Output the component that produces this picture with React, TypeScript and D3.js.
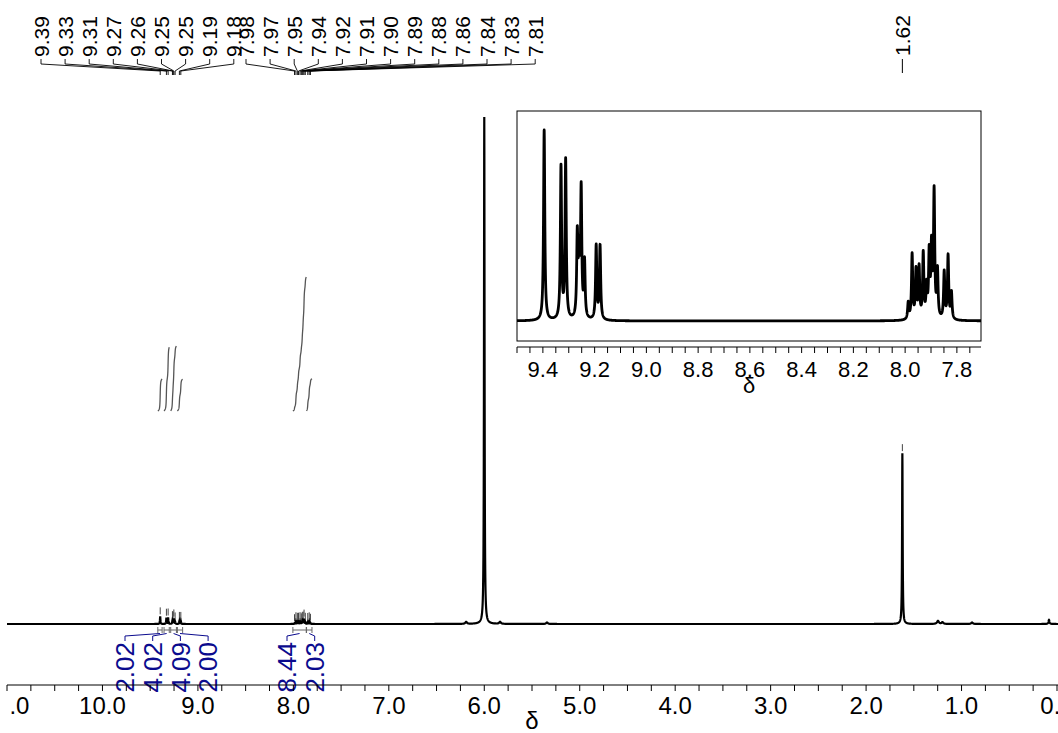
import React from "react";
import * as d3 from "d3";

const W = 1058;
const H = 733;

// Picked aromatic peaks (ppm as drawn, intensity with solvent peak = 100)
const aroPpm = [9.395, 9.33, 9.312, 9.267, 9.26, 9.252, 9.239, 9.194, 9.179,
  7.988, 7.973, 7.958, 7.946, 7.93, 7.917, 7.907, 7.898, 7.888, 7.875, 7.849, 7.834, 7.821];
const aroInt = [1.5, 1.2, 1.25, 0.64, 0.46, 1.0, 0.44, 0.58, 0.58,
  0.13, 0.51, 0.38, 0.4, 0.51, 0.24, 0.5, 0.54, 0.99, 0.37, 0.37, 0.5, 0.21];
const aroLabels1 = ["9.39", "9.33", "9.31", "9.27", "9.26", "9.25", "9.25", "9.19", "9.18"];
const aroLabels2 = ["7.98", "7.97", "7.95", "7.94", "7.92", "7.91", "7.90", "7.89", "7.88", "7.86", "7.84", "7.83", "7.81"];
const aroWidth = 0.0028;

// Other signals
const otherPpm = [6.0, 1.62, 6.19, 5.835, 5.343, 1.247, 1.2, 0.89, 0.084];
const otherInt = [100, 33.7, 0.4, 0.4, 0.3, 0.6, 0.35, 0.3, 0.8];
const otherWidth = [0.0035, 0.0035, 0.01, 0.01, 0.01, 0.012, 0.01, 0.01, 0.006];
const singleLabelPpm = 1.62;
const singleLabel = "1.62";

// Integrations
const intStart = [9.42, 9.355, 9.285, 9.215, 8.005, 7.862];
const intEnd = [9.375, 9.3, 9.225, 9.16, 7.865, 7.805];
const intValues = [2.02, 4.02, 4.09, 2.0, 8.44, 2.03];
const intLabels = ["2.02", "4.02", "4.09", "2.00", "8.44", "2.03"];

// Axis ticks
const mainTickLabels = [11, 10, 9, 8, 7, 6, 5, 4, 3, 2, 1, 0];
const insetTickLabels = [9.4, 9.2, 9.0, 8.8, 8.6, 8.4, 8.2, 8.0, 7.8];

const FONT = "'Liberation Sans', Arial, Helvetica, sans-serif";
const BLUE = "#0b0b8e";

function spec(p: number): number {
  let s = 0;
  for (let i = 0; i < aroPpm.length; i++) {
    const d = (p - aroPpm[i]) / aroWidth;
    s += aroInt[i] / (1 + d * d);
  }
  for (let i = 0; i < otherPpm.length; i++) {
    const d = (p - otherPpm[i]) / otherWidth[i];
    s += otherInt[i] / (1 + d * d);
  }
  return s;
}

function grid(a: number, b: number, step: number): number[] {
  const g = d3.range(a, b, -step);
  aroPpm.concat(otherPpm).forEach((p) => {
    if (p <= a && p >= b) g.push(p);
  });
  return g.sort((x, y) => y - x);
}

export default function App() {
  const xMain = d3.scaleLinear().domain([11, 0]).range([7, 1057]);
  const yMain = d3.scaleLinear().domain([0, 100]).range([624, 117]);

  const mainPts = grid(11.0, -0.012, 0.001);
  const mainLine = d3
    .line<number>()
    .x((p) => xMain(p))
    .y((p) => yMain(spec(p)))(mainPts) as string;

  // inset
  const ix0 = 517, ix1 = 981, iy0 = 111, iy1 = 341;
  const xIn = d3.scaleLinear().domain([9.5, 9.5 - (ix1 - ix0) / 258.75]).range([ix0, ix1]);
  const inPts = grid(9.5, 7.7, 0.0004);
  const inMax = d3.max(inPts, (p) => spec(p)) as number;
  const yIn = d3.scaleLinear().domain([0, inMax]).range([321, 130]);
  const inLine = d3
    .line<number>()
    .x((p) => xIn(p))
    .y((p) => yIn(spec(p)))(inPts) as string;
  const inTicks = d3.range(0, 37).map((i) => 9.5 - i * 0.05).filter((v) => v >= xIn.domain()[1] - 1e-9);

  // integral curves
  const yInt = d3.scaleLinear().domain([0, 8.44]).range([411, 277]);
  const intCurves = intStart.map((s, k) => {
    const e = intEnd[k];
    const pts = d3.range(s, e - 1e-9, -0.0005);
    let c = 0;
    const cum = pts.map((p) => (c += spec(p)));
    const tot = cum[cum.length - 1];
    const line = d3
      .line<number>()
      .x((_, i) => xMain(pts[i]))
      .y((_, i) => yInt((cum[i] / tot) * intValues[k]))(pts) as string;
    return line;
  });

  const mainTicks = d3.range(0, 45).map((i) => 11 - i * 0.25);

  // label layout
  const labelSpacing = 24.1;
  const lab1x = aroLabels1.map((_, i) => 41 + i * labelSpacing);
  const lab2x = aroLabels2.map((_, i) => 246 + i * labelSpacing);
  const labs = [
    ...aroLabels1.map((t, i) => ({ t, lx: lab1x[i], p: aroPpm[i] })),
    ...aroLabels2.map((t, i) => ({ t, lx: lab2x[i], p: aroPpm[i + aroLabels1.length] })),
  ];

  const intLabelX = intLabels.map((_, i) => (i < 4 ? 125 + i * 27.7 : 287 + (i - 4) * 27.7));

  const markerPpm = [...aroPpm, singleLabelPpm];

  return (
    <svg
      width={W}
      height={H}
      style={{ position: "absolute", left: 0, top: 0, background: "#fff" }}
      fontFamily={FONT}
    >
      <defs>
        <clipPath id="axclip">
          <rect x={9} y={0} width={W - 9} height={H} />
        </clipPath>
        <clipPath id="inclip">
          <rect x={ix0} y={iy0} width={ix1 - ix0} height={iy1 - iy0} />
        </clipPath>
        <clipPath id="mainclip">
          <rect x={7} y={0} width={W - 7} height={H} />
        </clipPath>
      </defs>
      <rect x={0} y={0} width={W} height={H} fill="#fff" />

      {/* peak labels */}
      {labs.map((l, i) => (
        <g key={"pl" + i}>
          <text
            transform={`translate(${l.lx},57) rotate(-90)`}
            textAnchor="start"
            dy="0.36em"
            fontSize={21}
            fill="#000"
          >
            {l.t}
          </text>
          <path
            d={`M${l.lx},59 L${l.lx},64 L${xMain(l.p)},71 L${xMain(l.p)},75`}
            fill="none"
            stroke="#000"
            strokeWidth={0.9}
          />
        </g>
      ))}
      <text
        transform={`translate(${xMain(singleLabelPpm)},56) rotate(-90)`}
        textAnchor="start"
        dy="0.36em"
        fontSize={21}
        fill="#000"
      >
        {singleLabel}
      </text>
      <line
        x1={xMain(singleLabelPpm)}
        x2={xMain(singleLabelPpm)}
        y1={59}
        y2={73}
        stroke="#000"
        strokeWidth={1}
      />

      {/* integral curves */}
      {intCurves.map((d, i) => (
        <path key={"ic" + i} d={d} fill="none" stroke="#555" strokeWidth={1.3} />
      ))}

      {/* peak markers */}
      {markerPpm.map((p, i) => {
        const yt = yMain(spec(p));
        return (
          <line
            key={"mk" + i}
            x1={xMain(p)}
            x2={xMain(p)}
            y1={yt - 2}
            y2={yt - 9}
            stroke="#444"
            strokeWidth={1}
          />
        );
      })}

      {/* main spectrum */}
      <path d={mainLine} fill="none" stroke="#000" strokeWidth={2.2} clipPath="url(#mainclip)" />

      {/* integration brackets */}
      {intStart.map((s, i) => {
        const xs = xMain(s);
        const xe = xMain(intEnd[i]);
        const xc = (xs + xe) / 2;
        const lx = intLabelX[i];
        return (
          <g key={"ib" + i}>
            <path
              d={`M${xs},627 L${xs},633 M${xe},627 L${xe},633 M${xs},630 L${xe},630`}
              fill="none"
              stroke="#666"
              strokeWidth={1}
            />
            <path
              d={`M${lx},641 L${lx},636 L${xc},633.5`}
              fill="none"
              stroke={BLUE}
              strokeWidth={1}
            />
            <text
              transform={`translate(${lx},642) rotate(-90)`}
              textAnchor="end"
              dy="0.36em"
              fontSize={26}
              fill={BLUE}
            >
              {intLabels[i]}
            </text>
          </g>
        );
      })}

      {/* main axis */}
      <line x1={7} x2={W} y1={685} y2={685} stroke="#000" strokeWidth={1} />
      {mainTicks.map((t, i) => (
        <line key={"mt" + i} x1={xMain(t)} x2={xMain(t)} y1={685} y2={691} stroke="#000" strokeWidth={1} />
      ))}
      <g clipPath="url(#axclip)">
        {mainTickLabels.map((t, i) => (
          <text key={"ml" + i} x={xMain(t)} y={714} textAnchor="middle" fontSize={24} fill="#000">
            {t.toFixed(1)}
          </text>
        ))}
      </g>
      <text x={(xMain(11) + xMain(0)) / 2} y={729} textAnchor="middle" fontSize={24} fill="#000">
        δ
      </text>

      {/* inset */}
      <rect x={ix0} y={iy0} width={ix1 - ix0} height={iy1 - iy0} fill="#fff" stroke="#000" strokeWidth={1} />
      <path d={inLine} fill="none" stroke="#000" strokeWidth={2.8} strokeLinejoin="round" clipPath="url(#inclip)" />
      <line x1={ix0} x2={ix1} y1={347} y2={347} stroke="#000" strokeWidth={1} />
      {inTicks.map((t, i) => (
        <line key={"it" + i} x1={xIn(t)} x2={xIn(t)} y1={347} y2={353} stroke="#000" strokeWidth={1} />
      ))}
      {insetTickLabels.map((t, i) => (
        <text key={"il" + i} x={xIn(t)} y={377} textAnchor="middle" fontSize={22} fill="#000">
          {t.toFixed(1)}
        </text>
      ))}
      <text x={(ix0 + ix1) / 2} y={393} textAnchor="middle" fontSize={22} fill="#000">
        δ
      </text>
    </svg>
  );
}
